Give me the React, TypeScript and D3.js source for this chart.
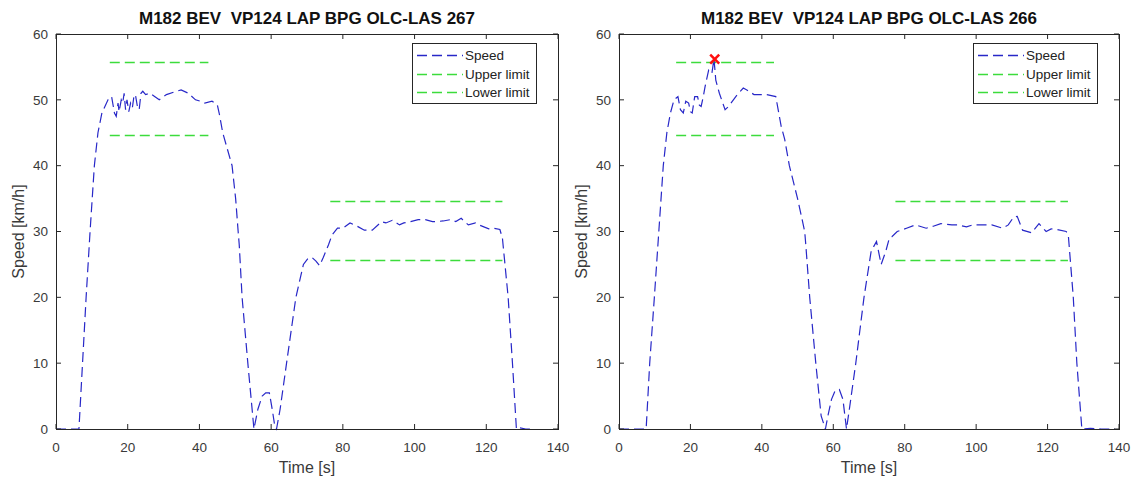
import React from "react";
import * as d3 from "d3";

// ---- Data ----
const xTicks = [0, 20, 40, 60, 80, 100, 120, 140];
const yTicks = [0, 10, 20, 30, 40, 50, 60];

const time267 = [0, 6.4, 7.4, 8.4, 9.5, 10.7, 11.7, 12.8, 14.5, 15.5, 16.3, 16.8, 17.3, 17.6, 18.2, 18.6, 19.0, 19.4, 19.8, 20.3, 20.8, 21.3, 21.8, 22.2, 22.7, 23.2, 23.7, 24.2, 25, 26.2, 27.5, 28.8, 30.8, 33, 34.9, 36.9, 38.9, 40.2, 41.5, 43.5, 45, 45.5, 46.5, 49.1, 50.1, 50.8, 51.1, 51.9, 53.5, 55.2, 56.3, 57.5, 58.5, 59.5, 60.3, 61, 61.5, 62.5, 64.3, 66.9, 69, 70.4, 71.5, 72.5, 73.5, 74.5, 76, 77, 78.5, 80, 82, 84, 86, 88.2, 90.8, 92, 93.8, 95.8, 97, 98.9, 101, 103, 105, 106, 108, 110, 111.5, 113, 115, 117, 118, 120.7, 122, 123.8, 124.5, 126.1, 127.3, 128.4, 129, 131, 133.4];
const speed267 = [0, 0, 10, 20, 30, 40, 45, 48, 50, 50.5, 48, 47.5, 49.5, 48.2, 50, 49.5, 51, 48.5, 50, 48.2, 49.5, 48.8, 50.8, 50.6, 49, 48.5, 51, 51.3, 50.8, 51, 50.5, 50, 50.8, 51.2, 51.5, 51, 50, 49.8, 49.5, 49.8, 49.2, 48, 45, 40, 35, 30, 28, 20, 10, 0, 3, 5, 5.5, 5.5, 3, 0.5, 0, 3, 10, 20, 25, 26, 26, 25.5, 24.8, 26, 28, 29.5, 30.5, 30.5, 31.3, 30.8, 30.2, 30.2, 31.5, 31.3, 31.7, 31, 31.3, 31.5, 31.8, 31.8, 31.5, 31.5, 31.6, 31.8, 31.5, 32, 31, 31.3, 31, 30.4, 30.5, 30.3, 29, 20, 10, 0, 0.2, 0, 0];

const time266 = [0, 7.6, 8.6, 9.9, 10.9, 12.4, 13.4, 14.4, 15.4, 16.5, 17.2, 18, 18.7, 19.5, 20, 20.5, 21.2, 22, 22.5, 23, 23.6, 24.1, 25.1, 26, 26.6, 27.1, 28.1, 29.7, 30.7, 32.7, 34.8, 35.8, 37.8, 41.4, 43.9, 45.4, 46.4, 47.7, 50, 52, 52.3, 53.4, 55.1, 56.6, 57.8, 58.5, 59.5, 60.5, 61.7, 62.7, 63.7, 64.5, 66.3, 68.6, 70.6, 72.1, 73.4, 74.7, 75.7, 76.4, 77.9, 80.5, 83, 86, 88, 90.1, 93.2, 95, 97.3, 99, 101.3, 104.4, 107.4, 109, 110.5, 111.5, 113, 115.5, 117.6, 119.6, 121, 122.7, 125.2, 125.8, 127.2, 128.2, 129.6, 132, 135, 138.9];
const speed266 = [0, 0, 10, 20, 28, 40, 45, 48, 50, 50.5, 48.5, 48, 49.8, 49.5, 48.2, 48, 50.5, 50.5, 49.2, 49, 50.5, 52, 54.5, 54, 56.2, 53, 51, 48.5, 49, 50.5, 51.8, 51.5, 50.8, 50.8, 50.5, 46, 44, 40, 35, 30, 28, 20, 10, 2, 0, 2, 4.5, 5.8, 6, 4.5, 0, 3, 10, 20, 27, 28.5, 25, 27, 29, 29.2, 30, 30.5, 31, 30.5, 30.8, 31.2, 31, 31, 30.7, 31, 31, 31, 30.5, 31, 32.2, 32.3, 30.2, 29.8, 31.2, 30, 30.4, 30.3, 30, 29.5, 20, 10, 0, 0.1, 0, 0];

// limit segments: [tStart, tEnd, value]
const upper267 = [[15, 42.5, 55.7], [76.5, 124.5, 34.7]];
const lower267 = [[15, 42.5, 44.7], [76.5, 124.5, 25.7]];
const upper266 = [[16, 43.4, 55.7], [77.4, 125.7, 34.7]];
const lower266 = [[16, 43.4, 44.7], [77.4, 125.7, 25.7]];

const peak266 = [26.8, 56.2];

const legendLabels = ["Speed", "Upper limit", "Lower limit"];

const FONT = "'Liberation Sans', Arial, Helvetica, sans-serif";
const AXIS = "#262626";
const TXT = "#3a3a3a";
const BLUE = "#2828c8";
const GREEN = "#3cdc3c";

type PlotProps = {
  left: number;
  right: number;
  title: string;
  time: number[];
  speed: number[];
  upper: number[][];
  lower: number[][];
  peak?: number[];
};

function Plot({ left, right, title, time, speed, upper, lower, peak }: PlotProps) {
  const top = 34;
  const bottom = 429;
  const x = d3.scaleLinear().domain([0, 140]).range([left, right]);
  const y = d3.scaleLinear().domain([0, 60]).range([bottom, top]);
  const pts = time.map((t, i) => [t, speed[i]] as [number, number]);
  const line = d3
    .line<[number, number]>()
    .x((d) => x(d[0]))
    .y((d) => y(d[1]));
  const tickLen = 5;
  const legR = right - 22;
  const legW = 124;
  const legL = legR - legW;
  const legT = top + 9;
  const legH = 60;
  const cx = (left + right) / 2;
  const yl = (v: number) => Math.round(y(v)) + 0.5;
  return (
    <g>
      <text x={cx} y={24} textAnchor="middle" fontFamily={FONT} fontWeight="bold" fontSize={17} fill="#111" style={{ whiteSpace: "pre" }}>
        {title}
      </text>
      {/* limits */}
      {upper.map((s, i) => (
        <line key={"u" + i} x1={x(s[0])} x2={x(s[1])} y1={yl(s[2])} y2={yl(s[2])} stroke={GREEN} strokeWidth={1.3} strokeDasharray="10,5" />
      ))}
      {lower.map((s, i) => (
        <line key={"l" + i} x1={x(s[0])} x2={x(s[1])} y1={yl(s[2])} y2={yl(s[2])} stroke={GREEN} strokeWidth={1.3} strokeDasharray="10,5" />
      ))}
      <path d={line(pts) || ""} fill="none" stroke={BLUE} strokeWidth={1.2} strokeDasharray="10,5" />
      {peak && (
        <g stroke="#ff1010" strokeWidth={2.5}>
          <line x1={x(peak[0]) - 4.5} x2={x(peak[0]) + 4.5} y1={y(peak[1]) - 4.5} y2={y(peak[1]) + 4.5} />
          <line x1={x(peak[0]) - 4.5} x2={x(peak[0]) + 4.5} y1={y(peak[1]) + 4.5} y2={y(peak[1]) - 4.5} />
        </g>
      )}
      {/* box */}
      <rect x={left + 0.5} y={top + 0.5} width={right - left} height={bottom - top} fill="none" stroke={AXIS} strokeWidth={1} />
      {xTicks.map((t) => (
        <g key={"x" + t}>
          <line x1={x(t)} x2={x(t)} y1={bottom} y2={bottom - tickLen} stroke={AXIS} />
          <line x1={x(t)} x2={x(t)} y1={top} y2={top + tickLen} stroke={AXIS} />
          <text x={x(t)} y={452} textAnchor="middle" fontFamily={FONT} fontSize={13.5} fill={TXT}>
            {t}
          </text>
        </g>
      ))}
      {yTicks.map((t) => (
        <g key={"y" + t}>
          <line x1={left} x2={left + tickLen} y1={y(t)} y2={y(t)} stroke={AXIS} />
          <line x1={right} x2={right - tickLen} y1={y(t)} y2={y(t)} stroke={AXIS} />
          <text x={left - 8} y={y(t)} dy="0.35em" textAnchor="end" fontFamily={FONT} fontSize={13.5} fill={TXT}>
            {t}
          </text>
        </g>
      ))}
      <text x={cx} y={473} textAnchor="middle" fontFamily={FONT} fontSize={16} fill={TXT}>
        Time [s]
      </text>
      <text transform={`translate(${left - 32},${(top + bottom) / 2}) rotate(-90)`} textAnchor="middle" fontFamily={FONT} fontSize={16} fill={TXT}>
        Speed [km/h]
      </text>
      {/* legend */}
      <rect x={legL + 0.5} y={legT + 0.5} width={legW} height={legH} fill="#fff" stroke={AXIS} strokeWidth={1} />
      {legendLabels.map((lab, i) => {
        const ly = Math.round(legT + 12 + i * 18.5) + 0.5;
        return (
          <g key={lab}>
            <line x1={legL + 5} x2={legL + 51} y1={ly} y2={ly} stroke={i === 0 ? BLUE : GREEN} strokeWidth={1.3} strokeDasharray="10,5" />
            <text x={legL + 53} y={ly} dy="0.35em" fontFamily={FONT} fontSize={13.5} fill="#222">
              {lab}
            </text>
          </g>
        );
      })}
    </g>
  );
}

export default function App() {
  return (
    <svg width={1136} height={477} style={{ position: "absolute", left: 0, top: 0, background: "#fff" }}>
      <rect x={0} y={0} width={1136} height={477} fill="#fff" />
      <Plot left={56} right={558} title="M182 BEV  VP124 LAP BPG OLC-LAS 267" time={time267} speed={speed267} upper={upper267} lower={lower267} />
      <Plot left={619} right={1119} title="M182 BEV  VP124 LAP BPG OLC-LAS 266" time={time266} speed={speed266} upper={upper266} lower={lower266} peak={peak266} />
    </svg>
  );
}
